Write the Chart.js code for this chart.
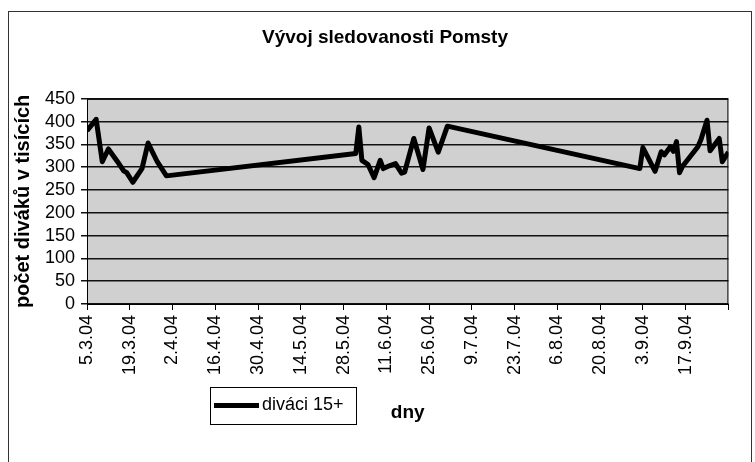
<!DOCTYPE html>
<html>
<head>
<meta charset="utf-8">
<title>Vývoj sledovanosti Pomsty</title>
<script src="https://cdn.jsdelivr.net/npm/chart.js@4.4.1/dist/chart.umd.min.js"></script>
<style>
body{margin:0;background:#fff;}
#obal{width:755px;height:462px;}
</style>
</head>
<body>
<div id="obal"><canvas id="graf" width="755" height="462"></canvas></div>
<script>
// dny vysilani a pocet divaku (v tisicich)
var dny = ["5.3.04","8.3.04","10.3.04","12.3.04","15.3.04","17.3.04","18.3.04","20.3.04","23.3.04","25.3.04","28.3.04","31.3.04",
  "1.6.04","2.6.04","3.6.04","5.6.04","7.6.04","9.6.04","10.6.04","12.6.04","14.6.04","16.6.04","17.6.04","20.6.04","23.6.04","25.6.04","28.6.04","1.7.04",
  "2.9.04","3.9.04","7.9.04","9.9.04","10.9.04","12.9.04","13.9.04","14.9.04","15.9.04","16.9.04","21.9.04","22.9.04","24.9.04","25.9.04","28.9.04","29.9.04","1.10.04"];
var divaci = [380,405,312,340,312,292,288,267,297,353,312,281,
  330,388,315,306,277,315,297,303,308,287,289,363,295,386,333,390,
  297,343,291,334,327,345,335,356,288,302,345,360,403,336,363,312,333];
var popiskyX = ["5.3.04","19.3.04","2.4.04","16.4.04","30.4.04","14.5.04","28.5.04","11.6.04","25.6.04","9.7.04","23.7.04","6.8.04","20.8.04","3.9.04","17.9.04"];
var konecOsy = "1.10.04";
var popiskyY = [0,50,100,150,200,250,300,350,400,450];

var zacatek = Date.UTC(2004,2,5);
function naDen(s)
{
  var p = s.split(".");
  return Math.round((Date.UTC(2000 + Number(p[2]), Number(p[1]) - 1, Number(p[0])) - zacatek) / 86400000);
}

var body = [];
dny.forEach(function(d, i){ body.push({x: naDen(d), y: divaci[i]}); });

var ticky = popiskyX.map(naDen);
ticky.push(naDen(konecOsy));

var pismo = "'Liberation Sans', Arial, sans-serif";

var pozadi = {
  id: "pozadi",
  afterLayout: function(chart){
    // titulek je v originale trochu vpravo od stredu
    if (chart.titleBlock) chart.titleBlock.right = chart.width + 15;
  },
  beforeDraw: function(chart){
    var c = chart.ctx, a = chart.chartArea;
    c.save();
    c.fillStyle = "#fff";
    c.fillRect(0, 0, chart.width, chart.height);
    c.strokeStyle = "#333";
    c.lineWidth = 1;
    c.strokeRect(8.5, 11.5, 743, 500);
    c.fillStyle = "#d0d0d0";
    c.fillRect(a.left, a.top, a.right - a.left, a.bottom - a.top);
    c.restore();
  },
  beforeDatasetsDraw: function(chart){
    var c = chart.ctx, a = chart.chartArea;
    c.save();
    c.strokeStyle = "#000";
    c.lineWidth = 1;
    c.strokeRect(a.left + 0.5, a.top + 0.5, a.right - a.left - 1, a.bottom - a.top);
    c.restore();
  },
  afterDraw: function(chart){
    var c = chart.ctx, ds = chart.data.datasets[0];
    c.save();
    c.fillStyle = "#fff";
    c.fillRect(210, 387, 146, 37);
    c.strokeStyle = "#000";
    c.lineWidth = 1;
    c.strokeRect(210.5, 387.5, 146, 37);
    c.strokeStyle = ds.borderColor;
    c.lineWidth = ds.borderWidth;
    c.beginPath();
    c.moveTo(214, 405.5);
    c.lineTo(259, 405.5);
    c.stroke();
    c.fillStyle = "#000";
    c.font = "18px " + pismo;
    c.textBaseline = "middle";
    c.fillText(ds.label, 262, 405);
    c.restore();
  }
};

new Chart("graf", {
  type: "line",
  data: {
    datasets: [{
      label: "diváci 15+",
      data: body,
      borderColor: "#000",
      borderWidth: 5,
      borderJoinStyle: "round",
      pointRadius: 0,
      tension: 0,
      fill: false
    }]
  },
  options: {
    responsive: false,
    animation: false,
    layout: {padding: {left: 0, right: 20, top: 0, bottom: 0}},
    plugins: {
      legend: {display: false},
      tooltip: {enabled: false},
      title: {
        display: true,
        text: "Vývoj sledovanosti Pomsty",
        color: "#000",
        font: {family: pismo, size: 19, weight: "bold"},
        padding: {top: 26, bottom: 50}
      }
    },
    scales: {
      x: {
        type: "linear",
        min: 0,
        max: naDen(konecOsy),
        afterBuildTicks: function(s){ s.ticks = ticky.map(function(v){ return {value: v}; }); },
        afterFit: function(s){ s.height = 158; },
        ticks: {
          autoSkip: false,
          minRotation: 90,
          maxRotation: 90,
          padding: 5,
          color: "#000",
          font: {family: pismo, size: 18},
          callback: function(v){ var i = ticky.indexOf(v); return i >= 0 && i < popiskyX.length ? popiskyX[i] : ""; }
        },
        grid: {display: true, drawOnChartArea: false, drawTicks: true, tickLength: 6, color: "#000"},
        border: {display: true, color: "#000", width: 1},
        title: {
          display: true,
          text: "dny",
          color: "#000",
          font: {family: pismo, size: 19, weight: "bold"},
          padding: {top: 0, bottom: 38}
        }
      },
      y: {
        min: 0,
        max: 450,
        afterBuildTicks: function(s){ s.ticks = popiskyY.map(function(v){ return {value: v}; }); },
        afterFit: function(s){ s.width = 87; },
        ticks: {
          autoSkip: false,
          padding: 6,
          color: "#000",
          font: {family: pismo, size: 18}
        },
        grid: {color: "#111", lineWidth: 1.5, tickLength: 6},
        border: {display: true, color: "#000", width: 1},
        title: {
          display: true,
          text: "počet diváků v tisících",
          color: "#000",
          font: {family: pismo, size: 20, weight: "bold"},
          padding: {top: 11, bottom: 0}
        }
      }
    }
  },
  plugins: [pozadi]
});
</script>
</body>
</html>
